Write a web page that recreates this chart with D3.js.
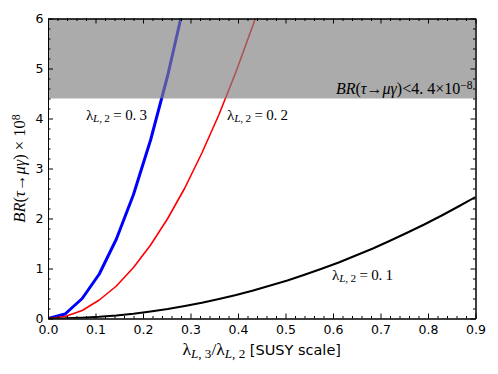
<!DOCTYPE html>
<html>
<head>
<meta charset="utf-8">
<script src="https://cdn.jsdelivr.net/npm/d3@7"></script>
<style>
  body { margin: 0; background: #fff; }
  .tick text { font-family: "DejaVu Sans", sans-serif; font-size: 12.5px; fill: #000; }
  .math { font-family: "Liberation Serif", "DejaVu Serif", serif; }
</style>
</head>
<body>
<svg id="chart" width="498" height="374"></svg>
<script>
// x grid of the scan (lambda_L3 / lambda_L2)
var ratio = [0, 0.036, 0.072, 0.108, 0.144, 0.18, 0.216, 0.252, 0.288, 0.324, 0.36, 0.396, 0.432,
             0.468, 0.504, 0.54, 0.576, 0.612, 0.648, 0.684, 0.72, 0.756, 0.792, 0.828, 0.864, 0.9];

// BR(tau -> mu gamma) x 10^8
var br03 = [0, 0.09, 0.40, 0.89, 1.59, 2.48, 3.57, 4.86, 6.35];
var br02 = [0, 0.04, 0.16, 0.37, 0.65, 1.02, 1.47, 2.00, 2.61, 3.31, 4.08, 4.94, 5.88, 6.90];
var br01 = [0, 0.004, 0.016, 0.035, 0.062, 0.097, 0.14, 0.19, 0.25, 0.315, 0.39, 0.47, 0.56,
            0.66, 0.76, 0.875, 0.995, 1.12, 1.26, 1.40, 1.555, 1.715, 1.88, 2.055, 2.24, 2.43];

var xTicks = [0, 0.1, 0.2, 0.3, 0.4, 0.5, 0.6, 0.7, 0.8, 0.9];
var yTicks = [0, 1, 2, 3, 4, 5, 6];
var bound = 4.4;   // experimental limit, x 10^-8

var svg = d3.select("#chart");
var margin = {left: 48, top: 18.5, right: 22.5, bottom: 55.5};
var w = 498 - margin.left - margin.right;
var h = 374 - margin.top - margin.bottom;

var x = d3.scaleLinear().domain([0, 0.9]).range([0, w]);
var y = d3.scaleLinear().domain([0, 6]).range([h, 0]);

var g = svg.append("g")
  .attr("transform", "translate(" + margin.left + "," + margin.top + ")");

g.append("clipPath").attr("id", "plot-clip")
  .append("rect").attr("width", w).attr("height", h);

var series = [
  {vals: br03, color: "#0000ff", width: 3},
  {vals: br02, color: "#ff0000", width: 1.6},
  {vals: br01, color: "#000000", width: 2}
];

var line = d3.line()
  .x(function(d) { return x(d[0]); })
  .y(function(d) { return y(d[1]); });

var plot = g.append("g").attr("clip-path", "url(#plot-clip)");

series.forEach(function(s) {
  var pts = s.vals.map(function(v, i) { return [ratio[i], v]; });
  plot.append("path")
    .datum(pts)
    .attr("d", line)
    .attr("fill", "none")
    .attr("stroke", s.color)
    .attr("stroke-width", s.width)
    .attr("stroke-linejoin", "round");
});

// excluded region
plot.append("rect")
  .attr("x", x(0))
  .attr("y", y(6))
  .attr("width", x(0.9) - x(0))
  .attr("height", y(bound) - y(6))
  .attr("fill", "rgb(128,128,128)")
  .attr("fill-opacity", 0.66);

// minor tick values
var xMinor = d3.range(0, 0.9001, 0.02).filter(function(v) { return Math.abs(v * 10 - Math.round(v * 10)) > 1e-6; });
var yMinor = d3.range(0, 6.0001, 0.2).filter(function(v) { return Math.abs(v - Math.round(v)) > 1e-6; });

function styleAxis(sel) {
  sel.selectAll(".domain").attr("stroke", "#000");
  sel.selectAll(".tick line").attr("stroke", "#000");
}

// bottom
g.append("g").attr("transform", "translate(0," + h + ")")
  .call(d3.axisBottom(x).tickValues(xTicks).tickSize(-5).tickSizeOuter(0).tickPadding(7)
        .tickFormat(d3.format(".1f")))
  .call(styleAxis).call(function(a) { a.attr("font-size", null).attr("font-family", null); });
g.append("g").attr("transform", "translate(0," + h + ")")
  .call(d3.axisBottom(x).tickValues(xMinor).tickSize(-2.5).tickSizeOuter(0).tickFormat(""))
  .call(styleAxis);

// top
g.append("g")
  .call(d3.axisTop(x).tickValues(xTicks).tickSize(-5).tickSizeOuter(0).tickFormat(""))
  .call(styleAxis);
g.append("g")
  .call(d3.axisTop(x).tickValues(xMinor).tickSize(-2.5).tickSizeOuter(0).tickFormat(""))
  .call(styleAxis);

// left
g.append("g")
  .call(d3.axisLeft(y).tickValues(yTicks).tickSize(-5).tickSizeOuter(0).tickPadding(4.5)
        .tickFormat(d3.format("d")))
  .call(styleAxis).call(function(a) { a.attr("font-size", null).attr("font-family", null); });
g.append("g")
  .call(d3.axisLeft(y).tickValues(yMinor).tickSize(-2.5).tickSizeOuter(0).tickFormat(""))
  .call(styleAxis);

// right
g.append("g").attr("transform", "translate(" + w + ",0)")
  .call(d3.axisRight(y).tickValues(yTicks).tickSize(-5).tickSizeOuter(0).tickFormat(""))
  .call(styleAxis);
g.append("g").attr("transform", "translate(" + w + ",0)")
  .call(d3.axisRight(y).tickValues(yMinor).tickSize(-2.5).tickSizeOuter(0).tickFormat(""))
  .call(styleAxis);

// math-like text helper: parts = [text, style]  style: i italic, sub, sup
function mathText(parent, parts, size) {
  var t = parent.append("text").attr("class", "math").attr("font-size", size).attr("fill", "#000");
  parts.forEach(function(p) {
    var ts = t.append("tspan").text(p[0]);
    var st = p[1] || "";
    if (st.indexOf("i") >= 0) ts.attr("font-style", "italic");
    if (st.indexOf("sub") >= 0) ts.attr("font-size", size * 0.75).attr("baseline-shift", "-22%");
    if (st.indexOf("sup") >= 0) ts.attr("font-size", size * 0.72).attr("baseline-shift", "42%");
    if (p[2]) ts.attr("font-family", p[2]).attr("font-size", p[3]);
  });
  return t;
}

function lamLabel(val) {
  return [["λ", ""], ["L", "i sub"], [", 2", "sub"], [" = 0. " + val, ""]];
}

mathText(g, lamLabel("3"), 15).attr("x", x(0.08)).attr("y", y(4.0) + 1).attr("letter-spacing", -0.2);
mathText(g, lamLabel("2"), 15).attr("x", x(0.377)).attr("y", y(4.0) + 1).attr("letter-spacing", -0.2);
mathText(g, lamLabel("1"), 15).attr("x", x(0.598)).attr("y", y(0.77)).attr("letter-spacing", -0.2);

mathText(g, [["BR", "i"], ["(", ""], ["τ", "i"], ["→", ""], ["μγ", "i"], [")<4. 4×10", ""], ["−8", "sup"]], 16)
  .attr("x", w - 3).attr("y", y(bound) - 5).attr("text-anchor", "end");

// axis titles
mathText(svg, [["BR", "i"], ["(", ""], ["τ", "i"], ["→", ""], ["μγ", "i"], [")", ""], [" × 10", ""], ["8", "sup"]], 16.5)
  .attr("text-anchor", "middle")
  .attr("transform", "translate(25," + (margin.top + h / 2) + ")rotate(-90)");

mathText(svg, [["λ", ""], ["L", "i sub"], [", 3", "sub"], ["/λ", ""], ["L", "i sub"], [", 2", "sub"],
               [" [SUSY scale]", "", "DejaVu Sans", 14.5]], 17.5)
  .attr("text-anchor", "middle")
  .attr("x", margin.left + w / 2).attr("y", 355);
</script>
</body>
</html>
